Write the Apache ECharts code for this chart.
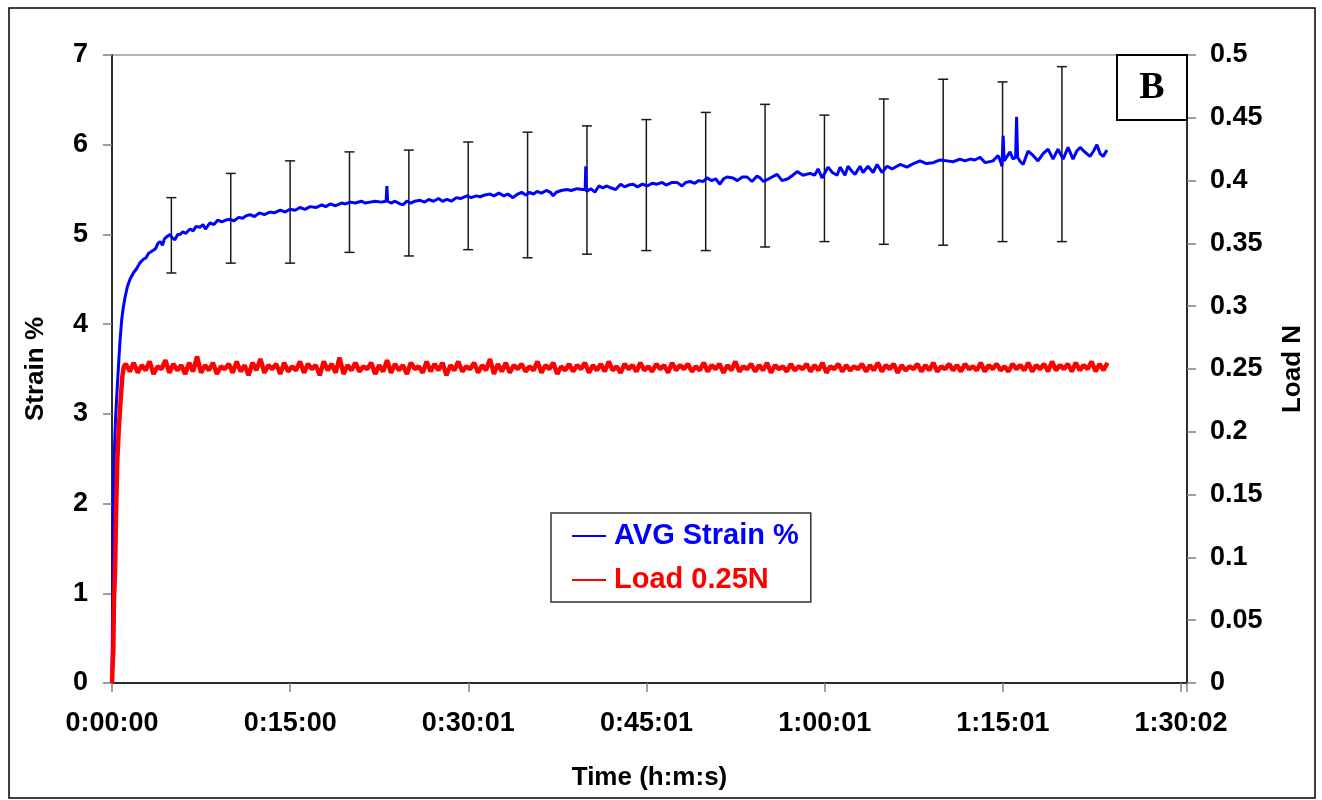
<!DOCTYPE html>
<html>
<head>
<meta charset="utf-8">
<title>Strain and load vs time</title>
<script src="https://cdn.jsdelivr.net/npm/echarts@6/dist/echarts.min.js"></script>
<style>
    html, body { margin: 0; padding: 0; background: #fff; }
    #chart { width: 1322px; height: 800px; }
</style>
</head>
<body>
<div id="chart"></div>
<script>
(function () {
    'use strict';

    // time axis, seconds
    var X_MAX = 5432;
    var TICK_STEP = 5402 / 6;
    var timeLabels = ['0:00:00', '0:15:00', '0:30:01', '0:45:01', '1:00:01', '1:15:01', '1:30:02'];

    // [time s, strain %]
    var strainPoints = [
        [0, 0.05], [2, 0.6], [4, 1.3], [6, 1.9], [9, 2.35], [13, 2.65], [18, 2.95], [24, 3.2], [32, 3.5], [40, 3.8],
        [49, 4.05], [58, 4.2], [66, 4.3], [78, 4.42], [91, 4.5], [108, 4.57], [125, 4.62], [140, 4.68], [157, 4.72], [172, 4.74],
        [185, 4.79], [195, 4.77], [207, 4.82], [220, 4.84], [232, 4.90], [243, 4.92], [255, 4.88], [265, 4.95], [280, 4.98], [293, 5.00],
        [305, 4.96], [318, 4.94], [332, 5.00], [344, 5.00], [358, 5.03], [372, 5.01], [394, 5.06], [410, 5.04], [425, 5.09], [445, 5.08],
        [460, 5.11], [472, 5.06], [495, 5.13], [515, 5.11], [535, 5.16], [555, 5.14], [575, 5.16], [596, 5.17], [615, 5.15], [640, 5.19],
        [660, 5.18], [680, 5.21], [697, 5.22], [720, 5.20], [745, 5.24], [770, 5.22], [798, 5.25], [820, 5.24], [850, 5.27], [875, 5.25],
        [899, 5.28], [925, 5.27], [950, 5.30], [975, 5.28], [1001, 5.31], [1030, 5.30], [1060, 5.33], [1080, 5.31], [1102, 5.34], [1130, 5.32],
        [1160, 5.35], [1180, 5.34], [1203, 5.36], [1230, 5.35], [1260, 5.37], [1280, 5.35], [1304, 5.36], [1330, 5.37], [1360, 5.36], [1385, 5.37],
        [1389, 5.54], [1393, 5.37], [1410, 5.35], [1430, 5.37], [1455, 5.34], [1470, 5.33], [1490, 5.37], [1510, 5.35], [1530, 5.37], [1556, 5.38],
        [1580, 5.36], [1600, 5.39], [1625, 5.37], [1650, 5.40], [1670, 5.37], [1693, 5.39], [1715, 5.37], [1740, 5.41], [1760, 5.40], [1794, 5.43],
        [1815, 5.41], [1840, 5.43], [1860, 5.42], [1885, 5.44], [1910, 5.45], [1930, 5.43], [1955, 5.46], [1980, 5.43], [2000, 5.45], [2026, 5.41],
        [2050, 5.45], [2070, 5.47], [2090, 5.44], [2110, 5.47], [2130, 5.45], [2148, 5.48], [2170, 5.46], [2195, 5.49], [2215, 5.47], [2229, 5.43],
        [2245, 5.47], [2270, 5.49], [2299, 5.50], [2320, 5.49], [2350, 5.51], [2378, 5.50], [2391, 5.50], [2394, 5.76], [2397, 5.48], [2420, 5.51],
        [2440, 5.47], [2460, 5.54], [2480, 5.52], [2501, 5.54], [2520, 5.52], [2545, 5.50], [2570, 5.56], [2590, 5.53], [2610, 5.55], [2633, 5.56],
        [2655, 5.53], [2680, 5.56], [2705, 5.54], [2730, 5.57], [2754, 5.56], [2780, 5.58], [2800, 5.55], [2830, 5.58], [2855, 5.58], [2880, 5.54],
        [2900, 5.58], [2921, 5.59], [2945, 5.57], [2965, 5.60], [2987, 5.59], [3007, 5.63], [3030, 5.60], [3050, 5.62], [3072, 5.56], [3090, 5.62],
        [3108, 5.64], [3138, 5.63], [3160, 5.60], [3185, 5.64], [3209, 5.64], [3234, 5.59], [3259, 5.65], [3275, 5.63], [3292, 5.59], [3310, 5.61],
        [3335, 5.64], [3361, 5.67], [3386, 5.60], [3416, 5.62], [3440, 5.66], [3462, 5.70], [3492, 5.66], [3527, 5.68], [3550, 5.66], [3568, 5.73],
        [3588, 5.63], [3618, 5.75], [3640, 5.69], [3664, 5.66], [3679, 5.75], [3704, 5.66], [3719, 5.76], [3740, 5.70], [3755, 5.67], [3780, 5.76],
        [3795, 5.69], [3820, 5.76], [3846, 5.69], [3866, 5.78], [3891, 5.69], [3916, 5.76], [3942, 5.73], [3982, 5.78], [4017, 5.75], [4050, 5.79],
        [4083, 5.82], [4115, 5.79], [4149, 5.80], [4185, 5.83], [4220, 5.82], [4250, 5.81], [4285, 5.84], [4310, 5.82], [4336, 5.84], [4360, 5.83],
        [4386, 5.86], [4412, 5.80], [4452, 5.82], [4477, 5.88], [4492, 5.80], [4497, 5.76], [4503, 6.10], [4508, 5.82], [4523, 5.87], [4538, 5.92],
        [4553, 5.84], [4566, 5.86], [4571, 6.31], [4576, 5.86], [4590, 5.81], [4604, 5.78], [4629, 5.93], [4654, 5.88], [4679, 5.82], [4705, 5.90],
        [4730, 5.95], [4755, 5.84], [4780, 5.95], [4806, 5.84], [4831, 5.97], [4856, 5.84], [4875, 5.93], [4892, 5.97], [4915, 5.92], [4942, 5.87],
        [4960, 5.93], [4977, 6.00], [4993, 5.90], [5008, 5.87], [5028, 5.94]
    ];

    // load ramp at the start: [time s, load N]
    var loadRamp = [
        [0, 0.0], [3, 0.013], [7, 0.029], [10, 0.066], [16, 0.092], [20, 0.132],
        [27, 0.178], [35, 0.204], [44, 0.226], [52, 0.244], [60, 0.252]
    ];

    // load at hold, sampled every 20 s from 70 s
    var loadHoldStart = 70;
    var loadHoldStep = 20;
    var loadHold = [
        0.254, 0.248, 0.255, 0.247, 0.253, 0.249, 0.256, 0.246, 0.252, 0.250,
        0.257, 0.247, 0.254, 0.249, 0.253, 0.246, 0.255, 0.248, 0.260, 0.247,
        0.253, 0.249, 0.255, 0.246, 0.252, 0.250, 0.254, 0.247, 0.256, 0.248,
        0.253, 0.245, 0.255, 0.249, 0.258, 0.247, 0.253, 0.250, 0.254, 0.246,
        0.255, 0.248, 0.252, 0.249, 0.256, 0.247, 0.254, 0.250, 0.253, 0.245,
        0.256, 0.249, 0.254, 0.247, 0.259, 0.246, 0.253, 0.249, 0.255, 0.248,
        0.252, 0.250, 0.255, 0.246, 0.253, 0.248, 0.257, 0.247, 0.254, 0.249,
        0.253, 0.246, 0.255, 0.250, 0.252, 0.247, 0.256, 0.248, 0.254, 0.249,
        0.255, 0.245, 0.253, 0.249, 0.256, 0.248, 0.252, 0.250, 0.255, 0.247,
        0.253, 0.249, 0.258, 0.246, 0.254, 0.248, 0.255, 0.247, 0.253, 0.250,
        0.254, 0.248, 0.252, 0.249, 0.256, 0.247, 0.253, 0.250, 0.255, 0.246,
        0.252, 0.249, 0.254, 0.248, 0.253, 0.250, 0.255, 0.247, 0.253, 0.249,
        0.254, 0.248, 0.256, 0.249, 0.252, 0.247, 0.254, 0.250, 0.253, 0.248,
        0.255, 0.249, 0.252, 0.248, 0.254, 0.250, 0.253, 0.247, 0.255, 0.249,
        0.253, 0.250, 0.254, 0.248, 0.252, 0.249, 0.255, 0.248, 0.253, 0.250,
        0.254, 0.247, 0.253, 0.249, 0.256, 0.248, 0.252, 0.250, 0.254, 0.248,
        0.253, 0.249, 0.255, 0.247, 0.253, 0.250, 0.252, 0.248, 0.254, 0.249,
        0.252, 0.250, 0.254, 0.248, 0.253, 0.249, 0.255, 0.247, 0.252, 0.250,
        0.254, 0.248, 0.253, 0.249, 0.252, 0.250, 0.254, 0.248, 0.253, 0.249,
        0.255, 0.248, 0.253, 0.250, 0.254, 0.247, 0.253, 0.249, 0.252, 0.250,
        0.254, 0.248, 0.253, 0.249, 0.255, 0.248, 0.252, 0.250, 0.254, 0.249,
        0.253, 0.248, 0.254, 0.250, 0.252, 0.249, 0.255, 0.248, 0.253, 0.250,
        0.254, 0.249, 0.252, 0.248, 0.254, 0.250, 0.253, 0.249, 0.255, 0.248,
        0.253, 0.250, 0.254, 0.248, 0.256, 0.249, 0.253, 0.250, 0.254, 0.248,
        0.255, 0.249, 0.253, 0.250, 0.256, 0.248, 0.254, 0.249, 0.255
    ];

    // error bars every 5 minutes
    var errTimes = [300, 600, 900, 1200, 1500, 1800, 2100, 2400, 2700, 3000, 3300, 3600, 3900, 4200, 4500, 4800];
    var errHigh = [5.41, 5.68, 5.82, 5.92, 5.94, 6.03, 6.14, 6.21, 6.28, 6.36, 6.45, 6.33, 6.51, 6.73, 6.70, 6.87];
    var errLow = [4.57, 4.68, 4.68, 4.80, 4.76, 4.83, 4.74, 4.78, 4.82, 4.82, 4.86, 4.92, 4.89, 4.88, 4.92, 4.92];

    var FONT = "'Liberation Sans', Arial, sans-serif";

    var loadPoints = loadRamp.slice();
    for (var i = 0; i < loadHold.length; i++) {
        loadPoints.push([loadHoldStart + i * loadHoldStep, loadHold[i]]);
    }

    var errData = [];
    for (var j = 0; j < errTimes.length; j++) {
        errData.push([errTimes[j], errHigh[j], errLow[j]]);
    }

    var labelStyle = {
        color: '#000',
        fontFamily: FONT,
        fontWeight: 'bold',
        fontSize: 27
    };

    var nameStyle = {
        color: '#000',
        fontFamily: FONT,
        fontWeight: 'bold',
        fontSize: 26
    };

    function timeFormatter(value) {
        var idx = Math.round(value / TICK_STEP);
        if (Math.abs(value - idx * TICK_STEP) > 1 || idx >= timeLabels.length) {
            return '';
        }
        return timeLabels[idx];
    }

    function renderErrorBar(params, api) {
        var top = api.coord([api.value(0), api.value(1)]);
        var bottom = api.coord([api.value(0), api.value(2)]);
        var half = 5;
        var style = {stroke: '#1a1a1a', lineWidth: 1.5};
        return {
            type: 'group',
            children: [
                {type: 'line', shape: {x1: top[0], y1: top[1], x2: bottom[0], y2: bottom[1]}, style: style},
                {type: 'line', shape: {x1: top[0] - half, y1: top[1], x2: top[0] + half, y2: top[1]}, style: style},
                {type: 'line', shape: {x1: bottom[0] - half, y1: bottom[1], x2: bottom[0] + half, y2: bottom[1]}, style: style}
            ]
        };
    }

    var chart = echarts.init(document.getElementById('chart'));

    chart.setOption({
        animation: false,
        backgroundColor: '#fff',
        grid: {
            left: 112,
            right: 135,
            top: 55,
            bottom: 117,
            show: true,
            borderColor: '#9a9a9a',
            borderWidth: 1.5,
            backgroundColor: 'transparent'
        },
        legend: {
            orient: 'vertical',
            left: 551,
            top: 513,
            padding: [8, 12, 7, 21],
            itemGap: 14,
            itemWidth: 34,
            itemHeight: 2,
            icon: 'rect',
            borderColor: '#333',
            borderWidth: 1.5,
            backgroundColor: '#fff',
            selectedMode: false,
            textStyle: {
                fontFamily: FONT,
                fontWeight: 'bold',
                fontSize: 29,
                lineHeight: 30,
                padding: [0, 0, 0, 3]
            },
            data: [
                {name: 'AVG Strain %', textStyle: {color: '#0000ff'}},
                {name: 'Load 0.25N', textStyle: {color: '#ff0000'}}
            ]
        },
        xAxis: {
            type: 'value',
            min: 0,
            max: X_MAX,
            interval: TICK_STEP,
            name: 'Time (h:m:s)',
            nameLocation: 'middle',
            nameGap: 82,
            nameTextStyle: nameStyle,
            axisLine: {onZero: false, lineStyle: {color: '#000', width: 1.5}},
            axisTick: {length: 9, lineStyle: {color: '#808080', width: 1.5}},
            axisLabel: Object.assign({margin: 27, formatter: timeFormatter}, labelStyle),
            splitLine: {show: false}
        },
        yAxis: [
            {
                type: 'value',
                min: 0,
                max: 7,
                interval: 1,
                name: 'Strain %',
                nameLocation: 'middle',
                nameRotate: 90,
                nameGap: 63,
                nameTextStyle: nameStyle,
                axisLine: {show: true, lineStyle: {color: '#000', width: 1.5}},
                axisTick: {show: true, length: 9, lineStyle: {color: '#808080', width: 1.5}},
                axisLabel: Object.assign({margin: 24}, labelStyle),
                splitLine: {show: false}
            },
            {
                type: 'value',
                position: 'right',
                min: 0,
                max: 0.5,
                interval: 0.05,
                name: 'Load N',
                nameLocation: 'middle',
                nameRotate: 90,
                nameGap: 93,
                nameTextStyle: nameStyle,
                axisLine: {show: true, lineStyle: {color: '#000', width: 1.5}},
                axisTick: {show: true, length: 9, lineStyle: {color: '#808080', width: 1.5}},
                axisLabel: Object.assign({margin: 23}, labelStyle),
                splitLine: {show: false}
            }
        ],
        graphic: [
            {
                type: 'rect',
                shape: {x: 9, y: 8, width: 1306, height: 790},
                style: {fill: 'none', stroke: '#000', lineWidth: 1.5},
                silent: true,
                z: 0
            },
            {
                type: 'rect',
                shape: {x: 1117, y: 55, width: 70, height: 65},
                style: {fill: '#fff', stroke: '#000', lineWidth: 2},
                silent: true,
                z: 10
            },
            {
                type: 'text',
                x: 1152,
                y: 88,
                style: {
                    text: 'B',
                    fill: '#000',
                    font: "bold 38px 'Liberation Serif', 'Times New Roman', serif",
                    align: 'center',
                    verticalAlign: 'middle'
                },
                silent: true,
                z: 11
            }
        ],
        series: [
            {
                name: 'error bars',
                type: 'custom',
                renderItem: renderErrorBar,
                encode: {x: 0, y: [1, 2]},
                data: errData,
                z: 1,
                silent: true
            },
            {
                name: 'AVG Strain %',
                type: 'line',
                data: strainPoints,
                symbol: 'none',
                showSymbol: false,
                color: '#0000ff',
                lineStyle: {color: '#0000ff', width: 3},
                z: 2
            },
            {
                name: 'Load 0.25N',
                type: 'line',
                yAxisIndex: 1,
                data: loadPoints,
                symbol: 'none',
                showSymbol: false,
                color: '#ff0000',
                lineStyle: {color: '#ff0000', width: 4.5},
                z: 3
            }
        ]
    });
})();
</script>
</body>
</html>
